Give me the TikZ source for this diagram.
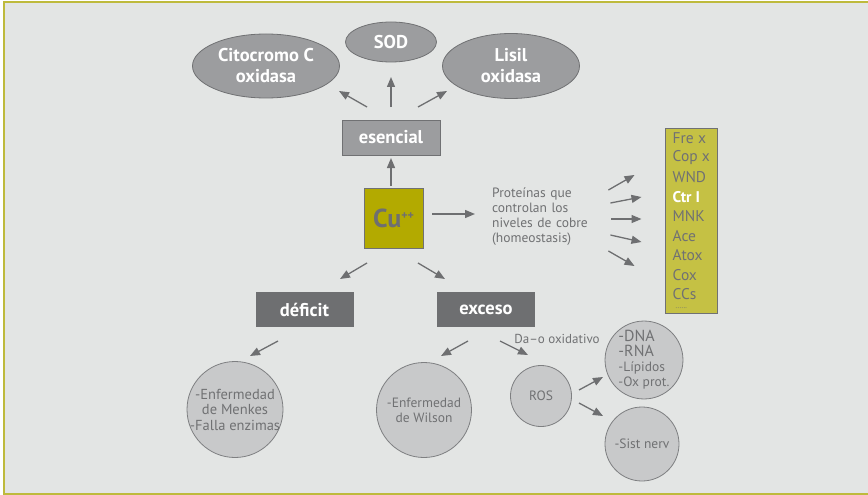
\documentclass[tikz,border=0pt]{standalone}
\usepackage{fontspec}
\setmainfont{PT Sans}
\usetikzlibrary{shapes.geometric,arrows.meta,calc}

\definecolor{bgc}{RGB}{227,229,228}
\definecolor{framec}{RGB}{190,186,60}
\definecolor{cuc}{RGB}{179,170,0}
\definecolor{listc}{RGB}{197,193,68}
\definecolor{darkc}{RGB}{110,111,113}
\definecolor{midc}{RGB}{156,157,159}
\definecolor{lightc}{RGB}{200,201,202}
\definecolor{txtc}{RGB}{112,113,115}

\begin{document}
\begin{tikzpicture}[x=1pt,y=-1pt,
  lbl/.style={font=\fontsize{18.5}{21}\selectfont\bfseries, text=white, align=center, inner sep=0pt},
  ell/.style={lbl, ellipse, draw=txtc, fill=midc, line width=0.8pt},
  box/.style={lbl, rectangle, draw=txtc, fill=midc, line width=1pt, minimum width=98pt, minimum height=35pt},
  dbox/.style={lbl, rectangle, fill=darkc, minimum width=98pt, minimum height=35pt},
  circ/.style={circle, draw=txtc!90, fill=lightc, line width=0.8pt, inner sep=0pt,
    text=txtc, font=\fontsize{13.5}{15}\selectfont},
  arr/.style={draw=darkc, line width=1.3pt, -{Triangle[length=10pt,width=8pt]}}]
  \clip (0,0) rectangle (868,495);
  \fill[white] (0,0) rectangle (868,495);
  \filldraw[fill=bgc, draw=framec, line width=2pt] (4,2) rectangle (880,494);

  % top part
  \node[ell, minimum width=147pt, minimum height=64pt] (cit) at (266,66) {Citocromo C\\oxidasa};
  \node[ell, minimum width=91pt, minimum height=40pt] (sod) at (391,42) {SOD};
  \node[ell, minimum width=137pt, minimum height=65pt] (lis) at (511,66) {Lisil\\oxidasa};
  \node[box] (es) at (391,137.5) {esencial};

  \node[rectangle, draw=txtc, fill=cuc, line width=1pt, minimum width=59pt, minimum height=60pt,
    text=darkc, font=\fontsize{26}{26}\selectfont\bfseries] (cu) at (393.5,218)
    {Cu\raisebox{8pt}{\fontsize{12}{12}\selectfont ++}};

  \node[anchor=west, text width=96pt, inner sep=0pt, align=left, text=txtc,
    font=\fontsize{13.5}{15}\selectfont] (prot) at (492,217)
    {\makebox[96pt][s]{Proteínas que}\\\makebox[96pt][s]{controlan los}\\niveles de cobre\\(homeostasis)};

  \node[rectangle, draw=txtc, fill=listc, line width=1pt, minimum width=52pt, minimum height=185pt] (lst) at (691,220.5) {};
  \foreach \t [count=\i] in {Fre x, Cop x, WND, {\bfseries\color{white}Ctr I}, MNK, Ace, Atox, Cox, CCs}
    \node[anchor=west, inner sep=0pt, text=txtc, font=\fontsize{15.5}{15.5}\selectfont]
      at ($(lst.north west)+(8,11+19.5*\i-19.5)$) {\t};
  \node[anchor=west, inner sep=0pt, text=txtc, font=\fontsize{7}{7}\selectfont]
    at ($(lst.north west)+(11,181)$) {......};

  % bottom part
  \node[dbox] (def) at (304.5,309.5) {déficit};
  \node[dbox] (exc) at (486,309.5) {exceso};
  \node[circ, minimum size=96pt, label={[text=txtc, align=center, inner sep=0pt,
    font=\fontsize{14.5}{15.5}\selectfont]center:-Enfermedad\\de Menkes\\-Falla enzimas}] (men) at (235,409.5) {};
  \node[circ, minimum size=95pt, align=center] (wil) at (424,410) {-Enfermedad\\de Wilson};
  \node[text=txtc, font=\fontsize{13}{13}\selectfont, inner sep=0pt] (dao) at (557,339) {Da–o oxidativo};
  \node[circ, minimum size=61pt] (ros) at (541,396) {ROS};
  \node[circ, minimum size=76pt, align=left] (dna) at (644,360)
    {{\fontsize{16}{15}\selectfont -DNA}\\{\fontsize{16}{15}\selectfont -RNA}\\-Lípidos\\-Ox prot.};
  \node[circ, minimum size=74pt] (sn) at (642,444) {-Sist nerv};

  % arrows
  \draw[arr] ($(es)+(-24,-30.5)$) -- ($(cit)+(73,25)$);
  \draw[arr] ($(es)+(0,-30.5)$) -- ($(sod)+(0,35)$);
  \draw[arr] ($(es)+(27,-30.5)$) -- ($(lis)+(-64,25)$);
  \draw[arr] ($(cu)+(-2.5,-32)$) -- ($(es)+(0,20.5)$);
  \draw[arr] ($(cu)+(38.5,-4)$) -- ($(prot.west)+(-17,-3)$);
  \foreach \ax/\ay/\bx/\by in {20/-27/-30/-45.5, 22/-14/-23/-23.5, 23/2/-23/-1.5, 22/18/-23/21.5, 20/34/-30/45.5}
    \draw[arr] ($(prot.east)+(\ax,\ay)$) -- ($(lst.west)+(\bx,\by)$);
  \draw[arr] ($(cu)+(-26.5,45)$) -- ($(def)+(35.5,-30.5)$);
  \draw[arr] ($(cu)+(24.5,45)$) -- ($(exc)+(-41,-30.5)$);
  \draw[arr] ($(def)+(-26.5,31.5)$) -- ($(men)+(15,-53.5)$);
  \draw[arr] ($(exc)+(-18,31.5)$) -- ($(wil)+(17,-54)$);
  \draw[arr] ($(exc)+(14,31.5)$) -- ($(ros)+(-13,-41)$);
  \draw[arr] ($(ros)+(38,-6)$) -- ($(dna)+(-41,17)$);
  \draw[arr] ($(ros)+(38,7)$) -- ($(sn)+(-39,-28)$);
\end{tikzpicture}
\end{document}
